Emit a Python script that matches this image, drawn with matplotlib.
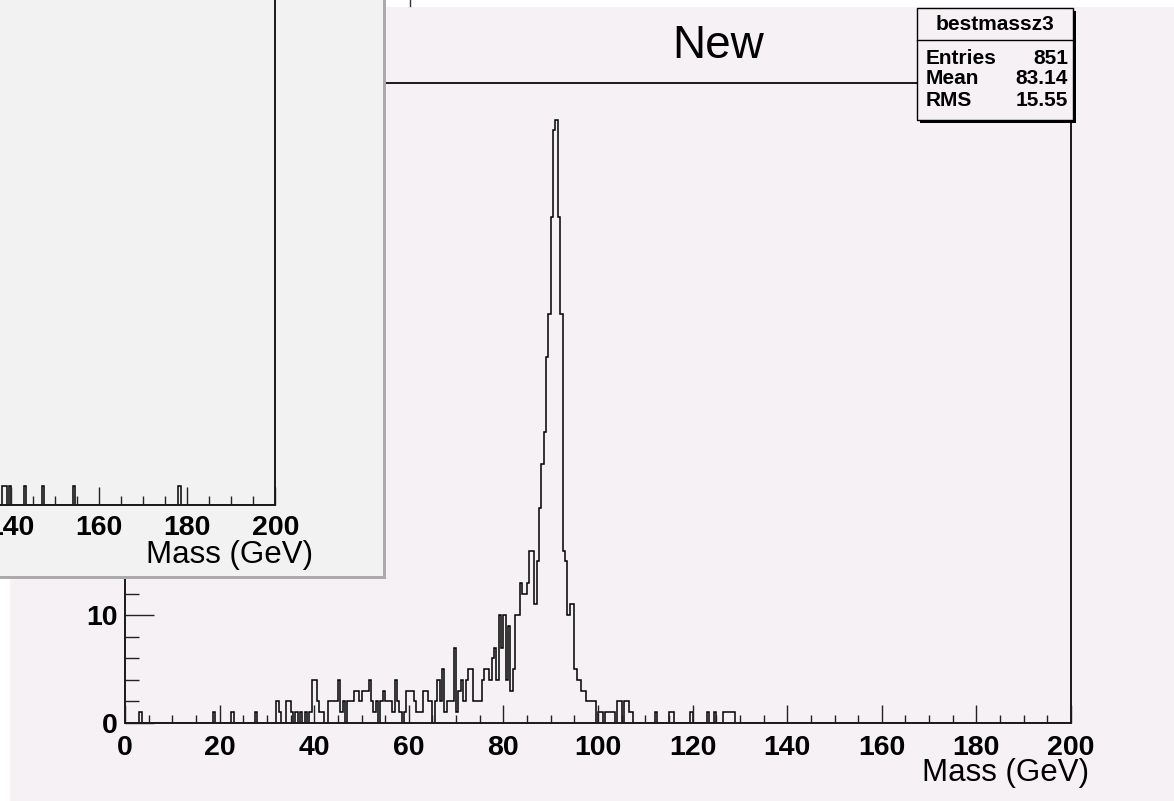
import numpy as np
import matplotlib.pyplot as plt
from matplotlib.patches import Rectangle
from matplotlib.lines import Line2D
from matplotlib.ticker import MultipleLocator

W, H = 1174, 801
plt.rcParams['font.family'] = ['Liberation Sans', 'DejaVu Sans']
narrow = ['Liberation Sans Narrow', 'Liberation Sans']

# "New" histogram bestmassz3, 0.5 GeV bins from 0 to 200 GeV
bin_width = 0.5
core_start = 27.5
core_counts = [
    1, 0, 0, 0, 0, 0, 0, 0, 0, 2, 1, 0, 0, 2, 2, 1, 0, 1, 0, 1,      # 27.5 - 37.0
    0, 1, 0, 1, 4, 4, 2, 1, 1, 0, 0, 2, 2, 2, 2, 4, 1, 2, 0, 2,      # 37.5 - 47.0
    2, 2, 3, 3, 2, 3, 3, 3, 4, 2, 1, 2, 0, 2, 3, 2, 2, 2, 1, 4,      # 47.5 - 57.0
    2, 1, 0, 1, 3, 3, 3, 2, 1, 1, 1, 3, 3, 2, 2, 0, 2, 4, 2, 5,      # 57.5 - 67.0
    1, 2, 2, 2, 7, 1, 3, 4, 2, 4, 5, 5, 2, 2, 2, 2, 4, 5, 5, 4,      # 67.5 - 77.0
    6, 7, 4, 10, 7, 10, 4, 9, 3, 5, 10, 10, 13, 12, 12, 13, 16, 16, 11, 15,   # 77.5 - 87.0
    20, 24, 27, 34, 38, 47, 55, 56, 47, 38, 16, 15, 10, 11, 11, 5, 4, 4, 3, 3,  # 87.5 - 97.0
    2, 2, 2, 2, 0, 1, 1, 0, 1, 1, 1, 1, 0, 2, 2, 0, 2, 2, 1, 1,      # 97.5 - 107.0
]
tail_mass = [3.0, 18.5, 22.5, 112.0, 115.0, 115.5, 119.5, 123.0, 124.5,
             126.5, 127.0, 127.5, 128.0, 128.5]
tail_counts = [1] * len(tail_mass)

# histogram of the window lying on top (only its right end is visible)
old_mass = [138.0, 138.5, 139.5, 143.0, 147.0, 154.0, 178.0]
old_counts = [1, 1, 1, 1, 1, 1, 1]

stats_name = "bestmassz3"
stats_rows = [("Entries", "851"), ("Mean", "83.14"), ("RMS", "15.55")]

canvas_bg = '#f5f1f5'
panel_bg = '#f2f2f2'


def fx(x):
    return x / W


def fy(y):
    return 1 - y / H


def fill_hist(masses, counts, start=None):
    edges = np.arange(0, 200 + bin_width / 2, bin_width)
    h = np.zeros(len(edges) - 1)
    if start is None:
        for m, c in zip(masses, counts):
            h[int(round(m / bin_width))] = c
    else:
        i0 = int(round(start / bin_width))
        h[i0:i0 + len(counts)] = counts
    return edges, h


def root_axis(ax, xlen, xminor, ylen, yminor):
    ax.xaxis.set_major_locator(MultipleLocator(20))
    ax.xaxis.set_minor_locator(MultipleLocator(5))
    ax.tick_params(axis='x', which='major', direction='in', length=xlen, width=1.0,
                   color='#222222', labelsize=20.5, pad=8.5, top=False)
    ax.tick_params(axis='x', which='minor', direction='in', length=xminor, width=1.0,
                   color='#222222', top=False)
    ax.tick_params(axis='y', which='major', direction='in', length=ylen, width=1.0,
                   color='#222222', labelsize=20.5, pad=5.5, right=False)
    ax.tick_params(axis='y', which='minor', direction='in', length=yminor, width=1.0,
                   color='#222222', right=False)
    for lab in ax.get_xticklabels() + ax.get_yticklabels():
        lab.set_fontweight('bold')
    for s in ax.spines.values():
        s.set_linewidth(1.4)
        s.set_color('#1a1a1a')


fig = plt.figure(figsize=(W / 100, H / 100), dpi=100)
fig.patch.set_facecolor(canvas_bg)

# main pad
ax = fig.add_axes([fx(125), fy(723), (1071 - 125) / W, (723 - 83) / H])
ax.set_facecolor('none')
edges, h = fill_hist(None, core_counts, start=core_start)
_, ht = fill_hist(tail_mass, tail_counts)
ax.stairs(h + ht, edges, color='black', lw=1.1)
ax.set_xlim(0, 200)
ax.set_ylim(0, 59.4)
ax.yaxis.set_major_locator(MultipleLocator(10))
ax.yaxis.set_minor_locator(MultipleLocator(2))
root_axis(ax, 13, 6, 21, 10)
# labels above 10 sit under the other window anyway
ax.set_yticks([0, 10, 20, 30, 40, 50], ['0', '10', '', '', '', ''])
for lab in ax.get_yticklabels():
    lab.set_fontweight('bold')
fig.text(fx(1089), fy(781), 'Mass (GeV)', ha='right', va='baseline', fontsize=22.5)
fig.text(fx(718), fy(46), 'New', ha='center', va='center', fontsize=33, family=narrow)

# stats box
fig.add_artist(Rectangle((fx(920), fy(123)), (1076 - 920) / W, (123 - 11) / H,
                         transform=fig.transFigure, facecolor='black', edgecolor='none', zorder=3))
fig.add_artist(Rectangle((fx(917), fy(120)), (1073 - 917) / W, (120 - 8) / H,
                         transform=fig.transFigure, facecolor=canvas_bg, edgecolor='black',
                         lw=1.0, zorder=3))
fig.add_artist(Line2D([fx(917), fx(1073)], [fy(40), fy(40)], color='black', lw=1.0, zorder=4))
fig.text(fx(995), fy(24), stats_name, ha='center', va='center', fontsize=15,
         fontweight='bold', family=narrow, zorder=5)
for i, (k, v) in enumerate(stats_rows):
    yy = fy(58 + 21 * i)
    fig.text(fx(926), yy, k, ha='left', va='center', fontsize=15, fontweight='bold',
             family=narrow, zorder=5)
    fig.text(fx(1068), yy, v, ha='right', va='center', fontsize=15, fontweight='bold',
             family=narrow, zorder=5)

# window edges around the screenshot
fig.add_artist(Rectangle((fx(386), fy(7)), (W - 386) / W, 7 / H, transform=fig.transFigure,
                         facecolor='white', edgecolor='none', zorder=1))
fig.add_artist(Line2D([fx(410), fx(410)], [fy(0), fy(6)], color='#333333', lw=1.0, zorder=1))
fig.add_artist(Rectangle((0, 0), fx(10), 1 - 579 / H, transform=fig.transFigure,
                         facecolor='white', edgecolor='none', zorder=1))

# the other canvas lying over the top-left corner
fig.add_artist(Rectangle((0, fy(579)), fx(386), 579 / H, transform=fig.transFigure,
                         facecolor='#ababab', edgecolor='none', zorder=5))
fig.add_artist(Rectangle((0, fy(576)), fx(383), 576 / H, transform=fig.transFigure,
                         facecolor=panel_bg, edgecolor='none', zorder=5))
ov = fig.add_axes([0, fy(505), 275.3 / W, 505 / H])
ov.set_zorder(6)
ov.set_facecolor('none')
e2, h2 = fill_hist(old_mass, old_counts)
ov.stairs(h2, e2, color='black', lw=1.1)
ov.set_xlim(137.5, 200)
ov.set_ylim(0, 27)
root_axis(ov, 13, 6.5, 0, 0)
ov.tick_params(axis='x', pad=7)
ov.set_yticks([])
ov.spines['top'].set_visible(False)
ov.spines['left'].set_visible(False)
fig.text(fx(313), fy(563), 'Mass (GeV)', ha='right', va='baseline', fontsize=22.5, zorder=7)

fig.savefig('out.png', dpi=100, facecolor=fig.get_facecolor())
